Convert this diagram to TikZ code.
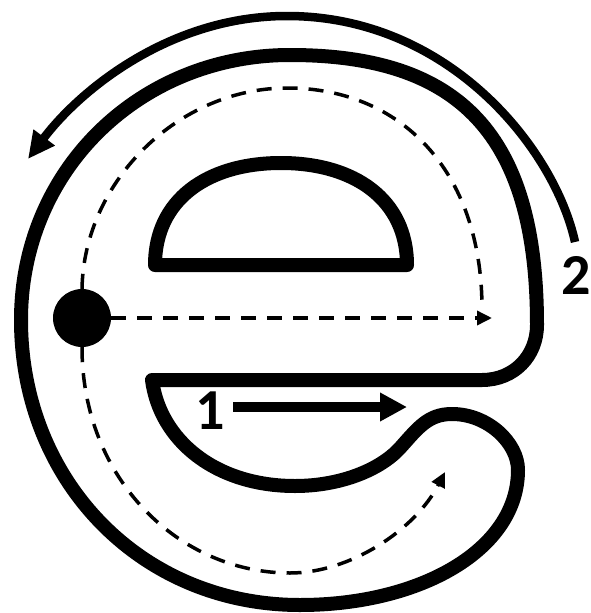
\documentclass[tikz,border=0pt]{standalone}
\usepackage{fontspec}
\setmainfont{Carlito}
\usetikzlibrary{arrows.meta}
\tikzset{
  eline/.style={line width=14pt, line join=round, draw=black},
  thinarrow/.style={line width=8.5pt, -{Triangle[length=27pt,width=25pt]}},
  bigarrow/.style={line width=10pt, -{Triangle[length=27pt,width=27pt]}},
  dashpath/.style={line width=3.5pt, dash pattern=on 15pt off 11pt},
  dasharrow/.style={dashpath, -{Triangle[length=15pt,width=14pt]}},
  lbl/.style={inner sep=0pt, font=\fontsize{58}{60}\selectfont\bfseries},
  startdot/.style={circle, fill=black, minimum size=58pt, inner sep=0pt}
}
\begin{document}
\begin{tikzpicture}[x=1pt,y=-1pt]
\useasboundingbox (0,0) rectangle (590,613);
% outer outline of the letter e
\draw[eline] (152,380) -- (482,380)
  .. controls (514,380) and (537,356) .. (537,325)
  .. controls (537,135) and (460,55) .. (290,55)
  .. controls (140,55) and (21,170) .. (21,320)
  .. controls (21,480) and (140,605) .. (300,605)
  .. controls (420,605) and (518,550) .. (518,470)
  .. controls (518,443) and (488,414) .. (452,414)
  .. controls (428,414) and (418,428) .. (400,448)
  .. controls (380,470) and (340,486) .. (295,486)
  .. controls (215,486) and (160,440) .. (152,380) -- cycle;
% counter (upper window)
\draw[eline] (155,265) -- (407,265)
  .. controls (407,200) and (355,163) .. (281,163)
  .. controls (207,163) and (155,200) .. (155,265) -- cycle;
% start dot
\node[startdot] (dot) at (82,318) {};
% dashed guides
\coordinate (h1) at (492,318);
\draw[dasharrow] (dot.east) -- (h1);
\coordinate (u1) at (482,309);
\draw[dashpath] (dot.north)
  .. controls (84,180) and (180,88) .. (287,88)
  .. controls (400,88) and (482,170) .. (u1);
\coordinate (h2) at (445,472);
\draw[dasharrow] (dot.south)
  .. controls (82,480) and (180,573) .. (290,573)
  .. controls (350,573) and (415,530) .. (h2);
% labels
\node[lbl] (n1) at (210,411) {1};
\node[lbl] (n2) at (576,275) {2};
% arrow 1
\coordinate (a1s) at (233,407);
\coordinate (a1e) at (407,407);
\draw[bigarrow] (a1s) -- (a1e);
% arrow 2
\coordinate (a2s) at (575,242);
\coordinate (a2e) at (28,159);
\draw[thinarrow] (a2s)
  .. controls (555,150) and (450,16) .. (287,16)
  .. controls (170,16) and (80,90) .. (a2e);
\end{tikzpicture}
\end{document}
